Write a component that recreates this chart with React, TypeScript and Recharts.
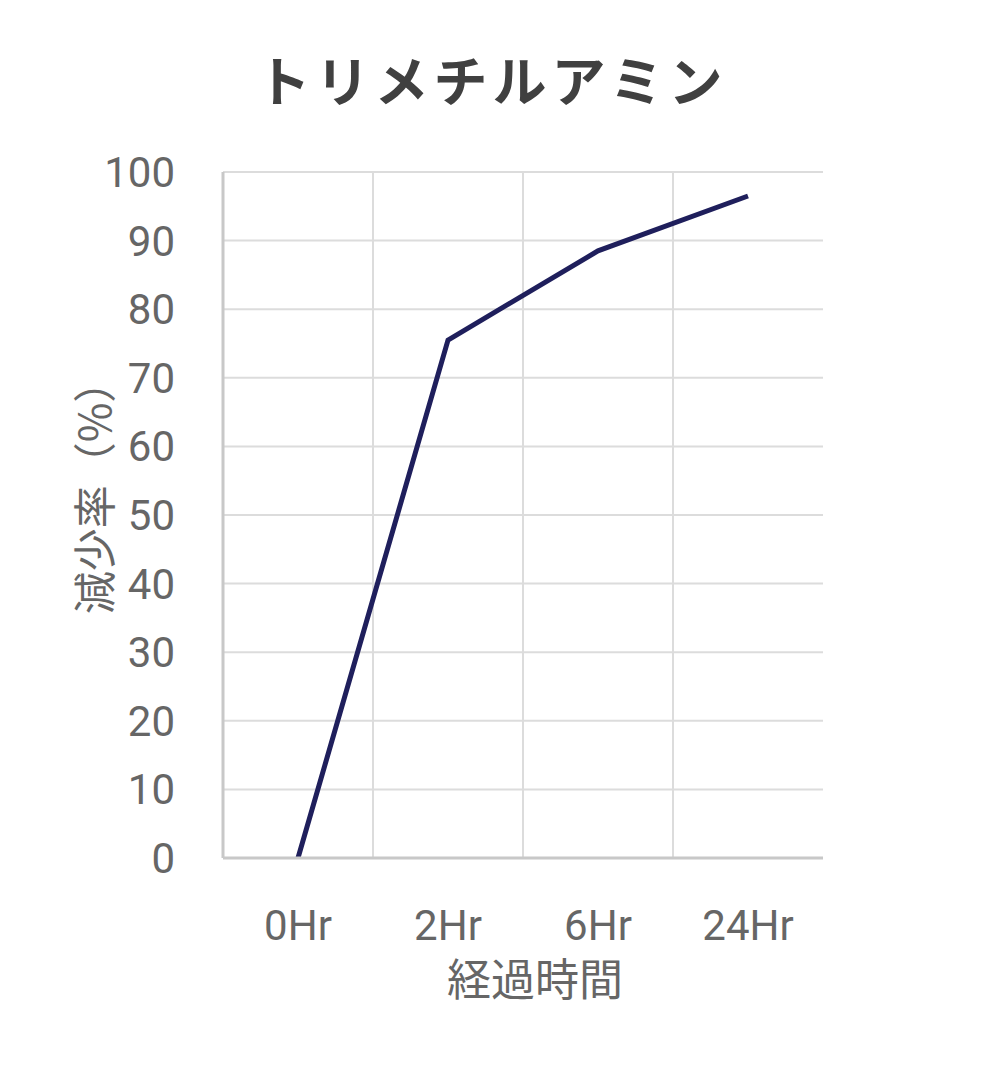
import React from 'react';
import { LineChart, Line, XAxis, YAxis, CartesianGrid, ReferenceLine } from 'recharts';

const categories = ['0Hr', '2Hr', '6Hr', '24Hr'];
const reduction = [0, 75.5, 88.5, 96.5];
const yTicks = [0, 10, 20, 30, 40, 50, 60, 70, 80, 90, 100];
const boundaryCategories = categories.slice(1);

const data = categories.map((c, i) => ({ name: c, value: reduction[i] }));

const tickFont = "Roboto, 'Noto Sans CJK JP', sans-serif";
const cjkFont = "'Noto Sans CJK JP', sans-serif";

export default function App() {
  return (
    <div style={{ position: 'absolute', left: 0, top: 0, width: 981, height: 1080, background: '#fff' }}>
      <div
        style={{
          position: 'absolute',
          left: 0,
          top: 44,
          width: 984,
          textAlign: 'center',
          fontFamily: cjkFont,
          fontWeight: 700,
          fontSize: 54,
          letterSpacing: 5,
          lineHeight: '70px',
          color: '#404040',
        }}
      >
        トリメチルアミン
      </div>
      <LineChart width={981} height={1080} data={data} margin={{ top: 172, right: 158, bottom: 82, left: 0 }}>
        <CartesianGrid stroke="#dcdcdc" strokeWidth={2} vertical={false} />
        <XAxis
          xAxisId="top"
          type="number"
          orientation="top"
          domain={[0, 1]}
          allowDataOverflow={true}
          height={0}
          tick={false}
          tickLine={false}
          axisLine={{ stroke: '#c8c8c8', strokeWidth: 3 }}
        />
        <XAxis
          dataKey="name"
          scale="band"
          height={140}
          tickLine={false}
          tickSize={6}
          tickMargin={46}
          axisLine={{ stroke: '#c8c8c8', strokeWidth: 3 }}
          tick={{ fill: '#666', fontSize: 42, fontFamily: tickFont }}
          label={{
            value: '経過時間',
            position: 'center',
            dx: 12,
            dy: 52,
            fill: '#666',
            fontSize: 44,
            fontFamily: cjkFont,
          }}
        />
        <YAxis
          domain={[0, 100]}
          ticks={yTicks}
          width={223}
          tickLine={false}
          tickSize={6}
          tickMargin={42}
          axisLine={{ stroke: '#c8c8c8', strokeWidth: 3 }}
          tick={{ fill: '#666', fontSize: 42, fontFamily: tickFont }}
          label={{
            value: '減少率（%）',
            angle: -90,
            position: 'center',
            dx: -16,
            dy: -28,
            fill: '#666',
            fontSize: 43,
            fontFamily: cjkFont,
          }}
        />
        <YAxis
          yAxisId="right"
          orientation="right"
          domain={[0, 100]}
          width={0}
          tick={false}
          tickLine={false}
          axisLine={{ stroke: '#c8c8c8', strokeWidth: 3 }}
        />
        {boundaryCategories.map((c) => (
          <ReferenceLine
            key={c}
            x={c}
            position="start"
            stroke="#dcdcdc"
            strokeWidth={2}
            zIndex={-50}
          />
        ))}
        <Line
          type="linear"
          dataKey="value"
          stroke="#1f1f5c"
          strokeWidth={5}
          dot={false}
          isAnimationActive={false}
        />
      </LineChart>
    </div>
  );
}
